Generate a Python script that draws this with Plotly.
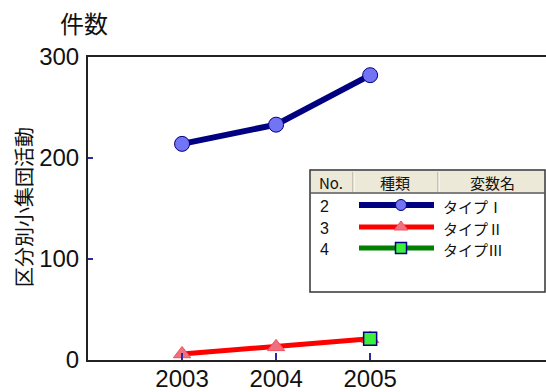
import plotly.graph_objects as go

# 区分別小集団活動の件数（年度別）
years = [2003, 2004, 2005]
type1_counts = [214, 233, 282]
type2_counts = [6, 13, 21]
type3_years = [2005]
type3_counts = [21]

y_ticks = [0, 100, 200, 300]
series_no = ["2", "3", "4"]
series_names = ["タイプⅠ", "タイプⅡ", "タイプⅢ"]
table_headers = ["No.", "種類", "変数名"]

W, H = 546, 392
L, R, T, B = 88, 0, 57, 32

NAVY = "#000080"
RED = "#FF0000"
GREEN = "#008000"
TICK_BLUE = "#2B2BA0"
FONT = "Liberation Sans, Noto Sans CJK JP"
CJK = "Noto Sans CJK JP"

lines = [
    dict(color=NAVY, width=6),
    dict(color=RED, width=5),
    dict(color=GREEN, width=5),
]
markers = [
    dict(symbol="circle", size=15, color="#7373F5",
         line=dict(color=NAVY, width=1)),
    dict(symbol="triangle-up", size=15, color="#F07080",
         line=dict(color="#F05060", width=1)),
    dict(symbol="square", size=13, color="#3CF03C",
         line=dict(color=NAVY, width=1.5)),
]
legend_sizes = [11, 12, 11]


def px(x):
    return (x - L) / (W - L - R)


def py(y):
    return (H - B - y) / (H - B - T)


fig = go.Figure()
fig.add_trace(go.Scatter(x=years, y=type1_counts, mode="lines+markers",
                         name=series_names[0], line=lines[0],
                         marker=markers[0]))
fig.add_trace(go.Scatter(x=years, y=type2_counts, mode="lines+markers",
                         name=series_names[1], line=lines[1],
                         marker=markers[1]))
fig.add_trace(go.Scatter(x=type3_years, y=type3_counts, mode="lines+markers",
                         name=series_names[2], line=lines[2],
                         marker=markers[2]))

# legend table: sample lines with markers drawn on a pixel-scaled overlay axis
row_y = [205, 227, 248]
for ln, mk, ms, ry in zip(lines, markers, legend_sizes, row_y):
    fig.add_trace(go.Scatter(x=[359, 401, 434], y=[ry, ry, ry],
                             mode="lines", line=ln,
                             xaxis="x2", yaxis="y2", hoverinfo="skip"))
    fig.add_trace(go.Scatter(x=[401], y=[ry], mode="markers",
                             marker=dict(mk, size=ms),
                             xaxis="x2", yaxis="y2", hoverinfo="skip"))

shapes = []
# table frame and header
shapes.append(dict(type="rect", xref="paper", yref="paper",
                   x0=px(310), x1=px(545), y0=py(292), y1=py(170),
                   line=dict(color="#333333", width=1.5), fillcolor="white",
                   layer="below"))
shapes.append(dict(type="rect", xref="paper", yref="paper",
                   x0=px(311), x1=px(544), y0=py(192), y1=py(171),
                   line=dict(width=0), fillcolor="#ECE9D8", layer="below"))
shapes.append(dict(type="line", xref="paper", yref="paper",
                   x0=px(310), x1=px(545), y0=py(193), y1=py(193),
                   line=dict(color="#555555", width=1.5), layer="below"))
for sx in [353, 438]:
    shapes.append(dict(type="line", xref="paper", yref="paper",
                       x0=px(sx), x1=px(sx), y0=py(192), y1=py(172),
                       line=dict(color="#A09C88", width=1), layer="below"))
    shapes.append(dict(type="line", xref="paper", yref="paper",
                       x0=px(sx + 1), x1=px(sx + 1), y0=py(192), y1=py(172),
                       line=dict(color="#FFFFFF", width=1), layer="below"))

annotations = []
for hx, text in zip([331, 395, 492], table_headers):
    annotations.append(dict(x=px(hx), y=py(182), xref="paper", yref="paper",
                            text=text, showarrow=False,
                            font=dict(family=CJK, size=15, color="#111111"),
                            xanchor="center", yanchor="middle"))
for no, name, ry in zip(series_no, series_names, row_y):
    annotations.append(dict(x=px(318), y=py(ry + 1), xref="paper",
                            yref="paper", text=no, showarrow=False,
                            font=dict(family=FONT, size=16, color="#111111"),
                            xanchor="left", yanchor="middle"))
    annotations.append(dict(x=px(441), y=py(ry + 1), xref="paper",
                            yref="paper", text=name, showarrow=False,
                            font=dict(family=CJK, size=15, color="#111111"),
                            xanchor="left", yanchor="middle"))

# axis titles
annotations.append(dict(x=px(84), y=py(23), xref="paper", yref="paper",
                        text="件数", showarrow=False,
                        font=dict(family=CJK, size=24, color="#111111"),
                        xanchor="center", yanchor="middle"))
annotations.append(dict(x=px(23), y=py(207), xref="paper", yref="paper",
                        text="区分別小集団活動", showarrow=False, textangle=-90,
                        font=dict(family=CJK, size=20, color="#111111"),
                        xanchor="center", yanchor="middle"))

fig.update_layout(
    width=W, height=H,
    margin=dict(l=L, r=R, t=T, b=B, autoexpand=False),
    paper_bgcolor="white", plot_bgcolor="white",
    showlegend=False,
    shapes=shapes,
    annotations=annotations,
    xaxis=dict(range=[2002, 2006.87], tickvals=years,
               ticktext=[str(y) for y in years],
               showgrid=False, zeroline=False, automargin=False,
               showline=True, linecolor="#222222", linewidth=2, mirror=True,
               ticks="inside", ticklen=7, tickwidth=1.5, tickcolor=TICK_BLUE,
               tickfont=dict(family=FONT, size=24, color="#111111"),
               ticklabelstandoff=-4),
    yaxis=dict(range=[0, 300], tickvals=y_ticks,
               showgrid=False, zeroline=False, automargin=False,
               showline=True, linecolor="#222222", linewidth=2,
               ticks="inside", ticklen=5, tickwidth=1.5, tickcolor=TICK_BLUE,
               tickfont=dict(family=FONT, size=24, color="#111111"),
               ticklabelstandoff=2),
    xaxis2=dict(range=[L, W - R], overlaying="x", visible=False,
                fixedrange=True),
    yaxis2=dict(range=[H - B, T], overlaying="y", visible=False,
                fixedrange=True),
)

fig.write_html("out.html")
